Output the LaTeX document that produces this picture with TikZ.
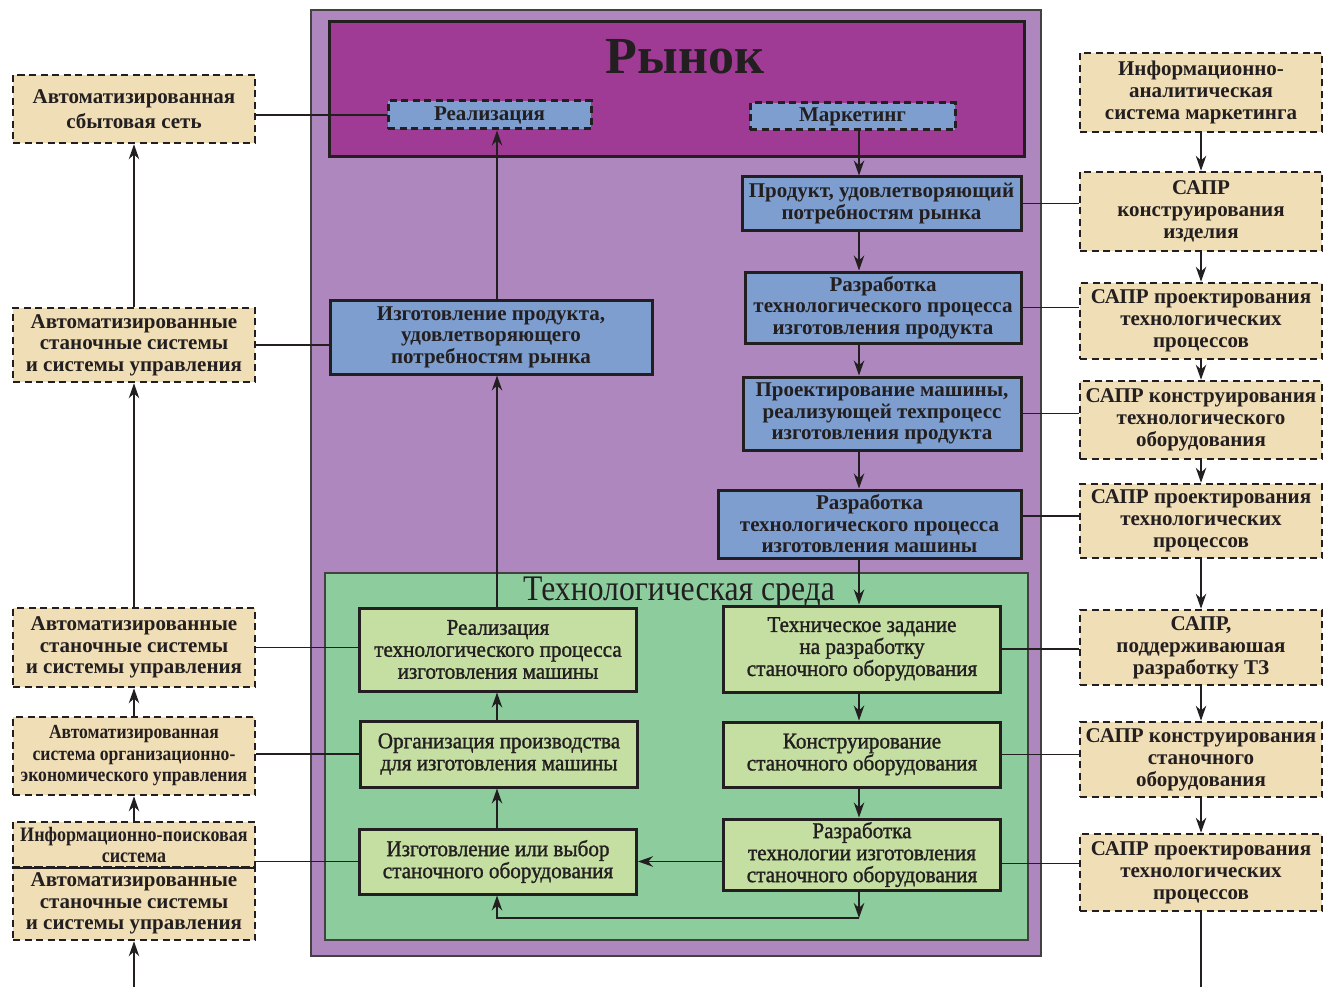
\documentclass[tikz,border=0pt]{standalone}
\usepackage{fontspec}
\setmainfont{Liberation Serif}
\newfontfamily\narrowfont[FakeStretch=0.88]{Liberation Serif}
\newfontfamily\envfont[FakeStretch=0.94, FakeBold=1.3]{Liberation Serif}
\usetikzlibrary{arrows.meta,positioning}
\definecolor{inkDark}{HTML}{231F20}
\definecolor{plantPurple}{HTML}{AD87BE}
\definecolor{marketMag}{HTML}{9F3B94}
\definecolor{stageBlue}{HTML}{7D9ECE}
\definecolor{sysTan}{HTML}{F0DEB6}
\definecolor{envGreen}{HTML}{8DCC9C}
\definecolor{stepGreen}{HTML}{C5DFA3}

\begin{document}
\begin{tikzpicture}[x=1pt, y=-1pt,
    every node/.style={inner sep=0pt, align=center, text=inkDark},
    stage/.style={rectangle, draw=inkDark, line width=3pt, fill=stageBlue,
                  font=\fontsize{21}{21.5}\selectfont\bfseries},
    mktbox/.style={stage, dash pattern=on 7pt off 4.5pt},
    envbox/.style={rectangle, draw=inkDark, line width=3pt, fill=stepGreen,
                   minimum width=277pt,
                   font=\envfont\fontsize{22.5}{22}\selectfont},
    sysbox/.style={rectangle, draw=inkDark, line width=2.6pt,
                   dash pattern=on 7pt off 4.5pt, fill=sysTan,
                   minimum width=242pt,
                   font=\fontsize{21}{22}\selectfont\bfseries},
    arrow/.style={-{Stealth[length=15pt,width=10.5pt]}, line width=1.4pt, draw=inkDark},
    link/.style={line width=1.4pt, draw=inkDark},
]
    \useasboundingbox (0,0) rectangle (1338,987);

    % frames
    \draw[fill=plantPurple, draw=inkDark!85, line width=1.5pt] (311,10) rectangle (1041,956);
    \draw[fill=marketMag, draw=inkDark, line width=3pt] (329,22) rectangle (1024,157);
    \draw[fill=envGreen, draw=inkDark!85, line width=1.5pt] (325,573) rectangle (1028,940);
    \node[font=\fontsize{52}{52}\selectfont\bfseries] (rynok) at (685,57) {Рынок};
    \node[font=\narrowfont\fontsize{36}{36}\selectfont] (envtitle) at (679,593) {Технологическая среда};

    \coordinate (lcol) at (497,0);
    \coordinate (rcol) at (859,0);

    % market and product chain
    \node[mktbox, minimum width=203pt, minimum height=28pt] (realiz) at (489.5,115) {Реализация};
    \node[mktbox, minimum width=205pt, minimum height=27pt] (market) at (852.5,116.5) {Маркетинг};
    \node[stage, minimum width=279pt, minimum height=53pt] (prod) at (881.5,203.5)
         {Продукт, удовлетворяющий\\потребностям рынка};
    \node[stage, minimum width=276pt, minimum height=71pt] (techprod) at (883,307.5)
         {Разработка\\технологического процесса\\изготовления продукта};
    \node[stage, minimum width=278pt, minimum height=73pt] (design) at (882,413.5)
         {Проектирование машины,\\реализующей техпроцесс\\изготовления продукта};
    \node[stage, minimum width=303pt, minimum height=68pt] (techmach) at (869.5,524)
         {Разработка\\технологического процесса\\изготовления машины};
    \node[stage, minimum width=322pt, minimum height=74pt] (makeprod) at (491,337)
         {Изготовление продукта,\\удовлетворяющего\\потребностям рынка};

    % technological environment
    \node[envbox, minimum height=83pt] (realmach) at (498,649.5)
         {Реализация\\технологического процесса\\изготовления машины};
    \node[envbox, minimum height=66pt] (orgprod) at (499,754)
         {Организация производства\\для изготовления машины};
    \node[envbox, minimum height=65pt] (makeequip) at (498,861.5)
         {Изготовление или выбор\\станочного оборудования};
    \node[envbox, minimum height=86pt] (spec) at (862,649)
         {Техническое задание\\на разработку\\станочного оборудования};
    \node[envbox, minimum height=65pt] (constr) at (862,754.5)
         {Конструирование\\станочного оборудования};
    \node[envbox, minimum height=71pt] (techequip) at (862,854.5)
         {Разработка\\технологии изготовления\\станочного оборудования};

    % left systems
    \node[sysbox, minimum height=68pt, font=\fontsize{21}{25}\selectfont\bfseries] (l1) at (134,109)
         {Автоматизированная\\сбытовая сеть};
    \node[sysbox, minimum height=74pt, font=\fontsize{21}{21.5}\selectfont\bfseries] (l2) at (134,345)
         {Автоматизированные\\станочные системы\\и системы управления};
    \node[sysbox, minimum height=79pt, font=\fontsize{21}{21.5}\selectfont\bfseries] (l3) at (134,647.5)
         {Автоматизированные\\станочные системы\\и системы управления};
    \node[sysbox, minimum height=78pt, font=\narrowfont\bfseries\fontsize{20}{21.5}\selectfont] (l4) at (134,756)
         {Автоматизированная\\система организационно-\\экономического управления};
    \node[sysbox, minimum height=45pt, font=\narrowfont\bfseries\fontsize{20.5}{21}\selectfont] (l5) at (134,844.5)
         {Информационно-поисковая\\система};
    \node[sysbox, minimum height=73pt, font=\fontsize{21}{21.5}\selectfont\bfseries] (l6) at (134,903.5)
         {Автоматизированные\\станочные системы\\и системы управления};
    \draw[line width=2pt, draw=inkDark] (l5.south west) -- (l5.south east);
    \coordinate (lin) at (134,987);

    % right systems
    \node[sysbox, minimum height=79pt] (r1) at (1201,92.5)
         {Информационно-\\аналитическая\\система маркетинга};
    \node[sysbox, minimum height=79pt] (r2) at (1201,211.5) {САПР\\конструирования\\изделия};
    \node[sysbox, minimum height=76pt] (r3) at (1201,321)
         {САПР проектирования\\технологических\\процессов};
    \node[sysbox, minimum height=78pt] (r4) at (1201,420)
         {САПР конструирования\\технологического\\оборудования};
    \node[sysbox, minimum height=74pt] (r5) at (1201,521)
         {САПР проектирования\\технологических\\процессов};
    \node[sysbox, minimum height=75pt] (r6) at (1201,647.5)
         {САПР,\\поддерживаюшая\\разработку ТЗ};
    \node[sysbox, minimum height=75pt] (r7) at (1201,759.5)
         {САПР конструирования\\станочного\\оборудования};
    \node[sysbox, minimum height=77pt] (r8) at (1201,872.5)
         {САПР проектирования\\технологических\\процессов};
    \coordinate (rout) at (1201,987);

    % flow arrows
    \draw[arrow] (market.south -| rcol) -- (prod.north -| rcol);
    \draw[arrow] (prod.south -| rcol) -- (techprod.north -| rcol);
    \draw[arrow] (techprod.south -| rcol) -- (design.north -| rcol);
    \draw[arrow] (design.south -| rcol) -- (techmach.north -| rcol);
    \draw[arrow] (techmach.south -| rcol) -- (spec.north -| rcol);
    \draw[arrow] (spec.south -| rcol) -- (constr.north -| rcol);
    \draw[arrow] (constr.south -| rcol) -- (techequip.north -| rcol);
    \draw[arrow] (techequip.west |- makeequip) -- (makeequip.east);
    \coordinate (loopR) at (859,918);
    \draw[arrow] (techequip.south -| rcol) -- (loopR);
    \draw[arrow] (loopR) -| (makeequip.south -| lcol);
    \draw[arrow] (makeequip.north -| lcol) -- (orgprod.south -| lcol);
    \draw[arrow] (orgprod.north -| lcol) -- (realmach.south -| lcol);
    \draw[arrow] (realmach.north -| lcol) -- (makeprod.south -| lcol);
    \draw[arrow] (makeprod.north -| lcol) -- (realiz.south -| lcol);

    \draw[arrow] (lin) -- (l6.south);
    \draw[arrow] (l5.north) -- (l4.south);
    \draw[arrow] (l4.north) -- (l3.south);
    \draw[arrow] (l3.north) -- (l2.south);
    \draw[arrow] (l2.north) -- (l1.south);
    \draw[arrow] (r1.south) -- (r2.north);
    \draw[arrow] (r2.south) -- (r3.north);
    \draw[arrow] (r3.south) -- (r4.north);
    \draw[arrow] (r4.south) -- (r5.north);
    \draw[arrow] (r5.south) -- (r6.north);
    \draw[arrow] (r6.south) -- (r7.north);
    \draw[arrow] (r7.south) -- (r8.north);
    \draw[link] (r8.south) -- (rout);

    % links to systems
    \draw[link] (l1.east |- realiz) -- (realiz.west);
    \draw[link] (l2.east) -- (l2.east -| makeprod.west);
    \draw[link] (l3.east) -- (l3.east -| realmach.west);
    \draw[link] (orgprod.west -| l4.east) -- (orgprod.west);
    \draw[link] (makeequip.west -| l5.east) -- (makeequip.west);
    \draw[link] (prod.east) -- (prod.east -| r2.west);
    \draw[link] (techprod.east) -- (techprod.east -| r3.west);
    \draw[link] (design.east) -- (design.east -| r4.west);
    \draw[link] ([yshift=8pt]techmach.east) -- ([yshift=8pt]techmach.east -| r5.west);
    \draw[link] (spec.east) -- (spec.east -| r6.west);
    \draw[link] (constr.east) -- (constr.east -| r7.west);
    \draw[link] ([yshift=-9pt]techequip.east) -- ([yshift=-9pt]techequip.east -| r8.west);
\end{tikzpicture}
\end{document}
